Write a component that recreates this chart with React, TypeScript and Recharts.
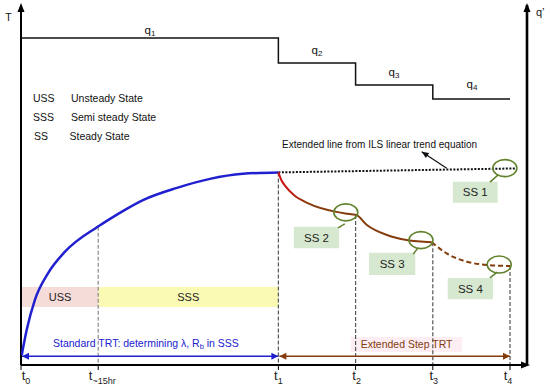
import React from 'react';
import {
  ComposedChart,
  Line,
  XAxis,
  YAxis,
  ReferenceLine,
  ReferenceArea,
  ReferenceDot,
  Customized,
} from 'recharts';

const W = 550;
const H = 390;
const X_MAX = 98.3;
const FONT = '"Liberation Sans", Arial, sans-serif';

// x axis ticks (hours) and their subscripts
const tickValues = [0, 15, 50, 65, 80, 95];
const tickSubs = ['0', '~15hr', '1', '2', '3', '4'];
const tickDx = [5, 4, 0, 1, 1, -2];

// heat injection rate steps (right axis)
const qTimes = [0, 50, 65, 80, 95];
const qValues = [90.8, 83.9, 77.8, 73.9, 73.9];

// standard TRT temperature curve
const blueT = [0.15, 1.1, 2.7, 5.3, 8.5, 14.9, 17.3, 20.2, 23.7, 30.3, 36.7, 43.1, 50];
const blueV = [2.8, 9.7, 18.1, 25.6, 31.4, 38.4, 40.6, 43.1, 45.8, 49.2, 51.7, 53.1, 53.5];

// extended step TRT curve (solid part, red fading to brown)
const stepT = [50, 50.5, 51.4, 53.0, 55.8, 61.0, 63.0, 65.1, 67.2, 71.1, 74.9, 79.8];
const stepV = [53.5, 51.6, 49.6, 47.2, 44.9, 42.6, 42.1, 41.7, 38.9, 36.1, 34.7, 34.1];
// extended step TRT curve (dashed part)
const dashT = [79.8, 82.7, 86.6, 90.5, 95];
const dashV = [34.1, 31.0, 28.7, 27.8, 27.5];

// ILS trend extension
const dotT = [50, 96];
const dotV = [53.5, 54.6];

// vertical guide lines
const vlineT = [15, 50, 65, 80, 95];
const vlineTop = [38.4, 53.5, 41.7, 34.1, 27.5];
const vlineColor = ['#8a8a8a', '#555', '#555', '#555', '#555'];

// steady state markers
const ssLabels = ['SS 1', 'SS 2', 'SS 3', 'SS 4'];
const ssCenterT = [94.0, 63.1, 77.7, 92.9];
const ssCenterV = [54.7, 42.4, 34.7, 27.9];
const ssBoxT1 = [83.9, 53.0, 67.6, 82.9];
const ssBoxT2 = [92.6, 61.8, 76.6, 91.7];
const ssBoxV1 = [45.1, 32.4, 25.0, 18.25];
const ssBoxV2 = [50.9, 38.4, 31.2, 24.2];
const ssPtrT1 = [92.7, 62.9, 77.1, 92.5];
const ssPtrV1 = [52.8, 39.2, 32.5, 25.8];
const ssPtrT2 = [91.1, 61.6, 76.2, 91.1];
const ssPtrV2 = [50.8, 38.1, 30.8, 24.2];

const toData = (ts: number[], vs: number[]) => ts.map((t, i) => ({ t, v: vs[i] }));
const qData = toData(qTimes, qValues);
const blueData = toData(blueT, blueV);
const stepData = toData(stepT, stepV);
const dashData = toData(dashT, dashV);
const dotData = toData(dotT, dotV);

const BLUE = '#2020d0';
const BROWN = '#843c0c';
const GREEN = '#62822e';

const renderTick = (props: any) => {
  const { x, y, payload } = props;
  const i = tickValues.indexOf(payload.value);
  return (
    <text x={x + (tickDx[i] ?? 0)} y={y + 8} textAnchor="middle" fontSize={13} fontFamily={FONT} fill="#222">
      <tspan>t</tspan>
      <tspan fontSize={9} dy={4}>{tickSubs[i]}</tspan>
    </text>
  );
};

const arrowShape = (color: string, width: number, both: boolean, head = 7, half = 3.5) => (p: any) => {
  const { x1, y1, x2, y2 } = p;
  const ang = Math.atan2(y2 - y1, x2 - x1);
  const headAt = (x: number, y: number, a: number) => {
    const bx = x - head * Math.cos(a);
    const by = y - head * Math.sin(a);
    const px = -Math.sin(a) * half;
    const py = Math.cos(a) * half;
    return `${x},${y} ${bx + px},${by + py} ${bx - px},${by - py}`;
  };
  return (
    <g>
      <line x1={x1} y1={y1} x2={x2} y2={y2} stroke={color} strokeWidth={width} />
      <polygon points={headAt(x2, y2, ang)} fill={color} />
      {both && <polygon points={headAt(x1, y1, ang + Math.PI)} fill={color} />}
    </g>
  );
};

const upHead = (p: any) => (
  <polygon points={`${p.cx},${p.cy - 2} ${p.cx - 3.5},${p.cy + 7} ${p.cx + 3.5},${p.cy + 7}`} fill="#000" />
);
const rightHead = (p: any) => (
  <polygon points={`${p.cx + 3},${p.cy} ${p.cx - 6},${p.cy - 3.5} ${p.cx - 6},${p.cy + 3.5}`} fill="#000" />
);
const ellipseShape = (p: any) => (
  <ellipse cx={p.cx} cy={p.cy} rx={12} ry={8.5} fill="none" stroke={GREEN} strokeWidth={1.6} />
);

const Defs = () => (
  <defs>
    <linearGradient id="redBrown" x1="0" y1="0" x2="1" y2="0">
      <stop offset="0" stopColor="#d01010" />
      <stop offset="0.08" stopColor="#c01a10" />
      <stop offset="0.2" stopColor={BROWN} />
      <stop offset="1" stopColor={BROWN} />
    </linearGradient>
  </defs>
);

const Texts = () => {
  const t = { fontFamily: FONT, fill: '#111' } as any;
  const qLabel = (x: number, y: number, n: string) => (
    <text x={x} y={y} fontSize={11.5} textAnchor="middle" {...t}>
      <tspan>q</tspan>
      <tspan fontSize={8} dy={2}>{n}</tspan>
    </text>
  );
  return (
    <g>
      <text x={8.5} y={21} fontSize={10.5} textAnchor="middle" {...t}>T</text>
      <text x={536} y={16} fontSize={11} {...t}>q’</text>
      {qLabel(150, 33.5, '1')}
      {qLabel(317, 53.5, '2')}
      {qLabel(394, 76, '3')}
      {qLabel(472, 87.5, '4')}
      <text x={33} y={102} fontSize={10.5} {...t}>USS</text>
      <text x={71} y={102} fontSize={10.5} {...t}>Unsteady State</text>
      <text x={33} y={120.5} fontSize={10.5} {...t}>SSS</text>
      <text x={71} y={120.5} fontSize={10.5} {...t}>Semi steady State</text>
      <text x={34} y={140} fontSize={10.5} {...t}>SS</text>
      <text x={69.5} y={140} fontSize={10.5} {...t}>Steady State</text>
      <text x={282} y={148} fontSize={10} {...t}>Extended line from ILS linear trend equation</text>
      <text x={53} y={346.5} fontSize={10.5} fontFamily={FONT} fill={BLUE}>
        Standard TRT: determining λ, R<tspan fontSize={7.5} dy={2}>b</tspan>
        <tspan dy={-2}> in SSS</tspan>
      </text>
    </g>
  );
};

export default function App() {
  return (
    <div style={{ position: 'absolute', left: 0, top: 0, width: W, height: H, background: '#fff' }}>
      <ComposedChart width={W} height={H} margin={{ top: 5, right: 23, bottom: 0, left: 21 }}>
        <Customized component={<Defs />} />
        <XAxis
          xAxisId="x"
          dataKey="t"
          type="number"
          domain={[0, X_MAX]}
          allowDataOverflow
          ticks={tickValues}
          tick={renderTick}
          tickSize={5}
          tickLine={{ stroke: '#000', strokeWidth: 1 }}
          axisLine={{ stroke: '#000', strokeWidth: 2 }}
          height={25}
          interval={0}
        />
        <YAxis yAxisId="T" type="number" domain={[0, 100]} allowDataOverflow width={0} tick={false} tickLine={false} axisLine={false} />
        <YAxis yAxisId="q" orientation="right" type="number" domain={[0, 100]} allowDataOverflow width={0} tick={false} tickLine={false} axisLine={false} />

        <ReferenceArea xAxisId="x" yAxisId="T" x1={0.2} x2={15} y1={16.1} y2={21.7} fill="#f5dcd9" fillOpacity={1} stroke="none"
          label={{ value: 'USS', position: 'center', fontSize: 11, fill: '#222', fontFamily: FONT }} />
        <ReferenceArea xAxisId="x" yAxisId="T" x1={15} x2={50} y1={16.1} y2={21.7} fill="#fafab4" fillOpacity={1} stroke="none"
          label={{ value: 'SSS', position: 'center', fontSize: 11, fill: '#222', fontFamily: FONT }} />
        <ReferenceArea xAxisId="x" yAxisId="T" x1={64.1} x2={85.7} y1={3.6} y2={7.8} fill="#f7c6da" fillOpacity={0.3} stroke="none"
          label={{ value: 'Extended Step TRT', position: 'center', fontSize: 10.5, fill: BROWN, fontFamily: FONT }} />

        {ssLabels.map((s, i) => (
          <ReferenceArea key={s} xAxisId="x" yAxisId="T" x1={ssBoxT1[i]} x2={ssBoxT2[i]} y1={ssBoxV1[i]} y2={ssBoxV2[i]}
            fill="#d6e8cf" fillOpacity={1} stroke="none"
            label={{ value: s, position: 'center', fontSize: 11.5, fill: '#222', fontFamily: FONT }} />
        ))}

        {vlineT.map((t, i) => (
          <ReferenceLine key={'v' + t} xAxisId="x" yAxisId="T" segment={[{ x: t, y: vlineTop[i] }, { x: t, y: 0 }]}
            stroke={vlineColor[i]} strokeWidth={1.2} strokeDasharray="4 2" ifOverflow="visible" />
        ))}

        <ReferenceLine xAxisId="x" yAxisId="T" x={0} stroke="#000" strokeWidth={2} ifOverflow="visible" />
        <ReferenceLine xAxisId="x" yAxisId="T" x={X_MAX} stroke="#000" strokeWidth={2.6} ifOverflow="visible" />

        <Line xAxisId="x" yAxisId="q" data={qData} dataKey="v" type="stepAfter" stroke="#111" strokeWidth={1.5} dot={false} isAnimationActive={false} />
        <Line xAxisId="x" yAxisId="T" data={dotData} dataKey="v" type="linear" stroke="#111" strokeWidth={2} strokeDasharray="2 1.5" dot={false} isAnimationActive={false} />
        <Line xAxisId="x" yAxisId="T" data={blueData} dataKey="v" type="monotone" stroke={BLUE} strokeWidth={2.5} dot={false} isAnimationActive={false} />
        <Line xAxisId="x" yAxisId="T" data={stepData} dataKey="v" type="monotone" stroke="url(#redBrown)" strokeWidth={2} dot={false} isAnimationActive={false} />
        <Line xAxisId="x" yAxisId="T" data={dashData} dataKey="v" type="monotone" stroke={BROWN} strokeWidth={2} strokeDasharray="5 3" dot={false} isAnimationActive={false} />

        {ssLabels.map((s, i) => (
          <ReferenceLine key={'p' + s} xAxisId="x" yAxisId="T" segment={[{ x: ssPtrT1[i], y: ssPtrV1[i] }, { x: ssPtrT2[i], y: ssPtrV2[i] }]}
            stroke={GREEN} strokeWidth={1.5} ifOverflow="visible" />
        ))}
        {ssLabels.map((s, i) => (
          <ReferenceDot key={'e' + s} xAxisId="x" yAxisId="T" x={ssCenterT[i]} y={ssCenterV[i]} r={10} shape={ellipseShape} ifOverflow="visible" />
        ))}

        <ReferenceLine xAxisId="x" yAxisId="T" segment={[{ x: 82.7, y: 54.64 }, { x: 77.84, y: 59.25 }]}
          shape={arrowShape('#111', 1.2, false, 7, 3)} ifOverflow="visible" />
        <ReferenceLine xAxisId="x" yAxisId="T" segment={[{ x: 0.2, y: 2.4 }, { x: 50, y: 2.4 }]}
          shape={arrowShape(BLUE, 1.5, true, 7, 3.5)} ifOverflow="visible" />
        <ReferenceLine xAxisId="x" yAxisId="T" segment={[{ x: 50.2, y: 2.4 }, { x: 95, y: 2.4 }]}
          shape={arrowShape(BROWN, 1.5, true, 7, 3.5)} ifOverflow="visible" />

        <ReferenceDot xAxisId="x" yAxisId="T" x={0} y={100} r={4} shape={upHead} ifOverflow="visible" />
        <ReferenceDot xAxisId="x" yAxisId="T" x={X_MAX} y={100} r={4} shape={upHead} ifOverflow="visible" />
        <ReferenceDot xAxisId="x" yAxisId="T" x={X_MAX} y={0} r={4} shape={rightHead} ifOverflow="visible" />

        <Customized component={<Texts />} />
      </ComposedChart>
    </div>
  );
}
